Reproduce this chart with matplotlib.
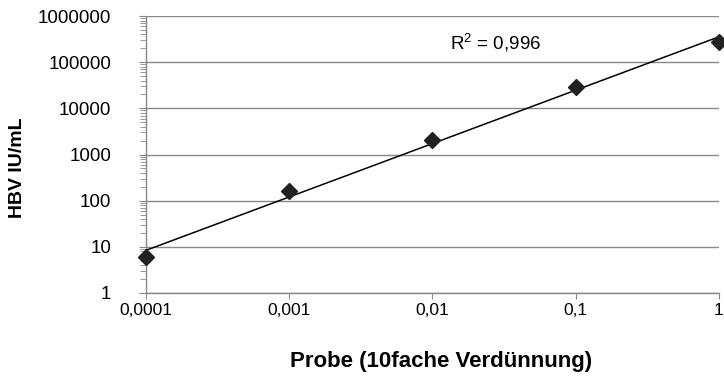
import matplotlib
matplotlib.use("Agg")
import matplotlib.pyplot as plt
from matplotlib.ticker import FixedLocator, LogLocator, NullFormatter
import numpy as np

plt.rcParams["font.family"] = ["Liberation Sans", "DejaVu Sans"]

# dilution steps and measured HBV load
dilution = [0.0001, 0.001, 0.01, 0.1, 1]
hbvLoad = [6, 160, 2050, 29000, 270000]
xTickLabels = ["0,0001", "0,001", "0,01", "0,1", "1"]
yTicks = [1, 10, 100, 1000, 10000, 100000, 1000000]
yTickLabels = ["1", "10", "100", "1000", "10000", "100000", "1000000"]
r2Text = r"R$^\mathregular{2}$ = 0,996"

fig = plt.figure(figsize=(7.24, 3.82), dpi=100)
ax = fig.add_axes([0.2017, 0.233, 0.7913, 0.725])

# power trendline (fit in log-log)
slope, icept = np.polyfit(np.log10(dilution), np.log10(hbvLoad), 1)
xFit = np.array([dilution[0], dilution[-1]])
yFit = 10 ** (icept + slope * np.log10(xFit))
ax.plot(xFit, yFit, color="black", lw=1.1, zorder=3)

ax.plot(dilution, hbvLoad, linestyle="none", marker="D", markersize=8.5,
        color="#222222", zorder=4, clip_on=False)

ax.set_xscale("log")
ax.set_yscale("log")
ax.set_xlim(dilution[0], dilution[-1])
ax.set_ylim(yTicks[0], yTicks[-1])

ax.xaxis.set_major_locator(FixedLocator(dilution))
ax.set_xticklabels(xTickLabels)
ax.xaxis.set_minor_locator(FixedLocator([]))
ax.yaxis.set_major_locator(FixedLocator(yTicks))
ax.set_yticklabels(yTickLabels)
ax.yaxis.set_minor_locator(LogLocator(base=10, subs=np.arange(2, 10), numticks=20))
ax.yaxis.set_minor_formatter(NullFormatter())

ax.grid(axis="y", which="major", color="#888888", lw=1.0)
ax.set_axisbelow(True)
for side in ["top", "right"]:
    ax.spines[side].set_visible(False)
for side in ["left", "bottom"]:
    ax.spines[side].set_color("#888888")
    ax.spines[side].set_linewidth(1.0)

ax.tick_params(axis="y", which="major", length=5, color="#888888", labelsize=13.5, pad=20)
ax.tick_params(axis="y", which="minor", length=4, color="#888888")
ax.tick_params(axis="x", which="major", length=4, color="#888888", labelsize=12.5, pad=3)

ax.set_ylabel("HBV IU/mL", fontsize=14, fontweight="bold")
ax.set_xlabel("Probe (10fache Verdünnung)", fontsize=16, fontweight="bold")
ax.yaxis.label.set_va("center")
ax.xaxis.label.set_va("center")
ax.yaxis.set_label_coords(18 / 724, 1 - 168 / 382, transform=fig.transFigure)
ax.xaxis.set_label_coords(441 / 724, 1 - 361 / 382, transform=fig.transFigure)

ax.text(0.5305, 0.9025, r2Text, transform=ax.transAxes, fontsize=13.5,
        va="center", ha="left")

fig.savefig("out.png", dpi=100)
